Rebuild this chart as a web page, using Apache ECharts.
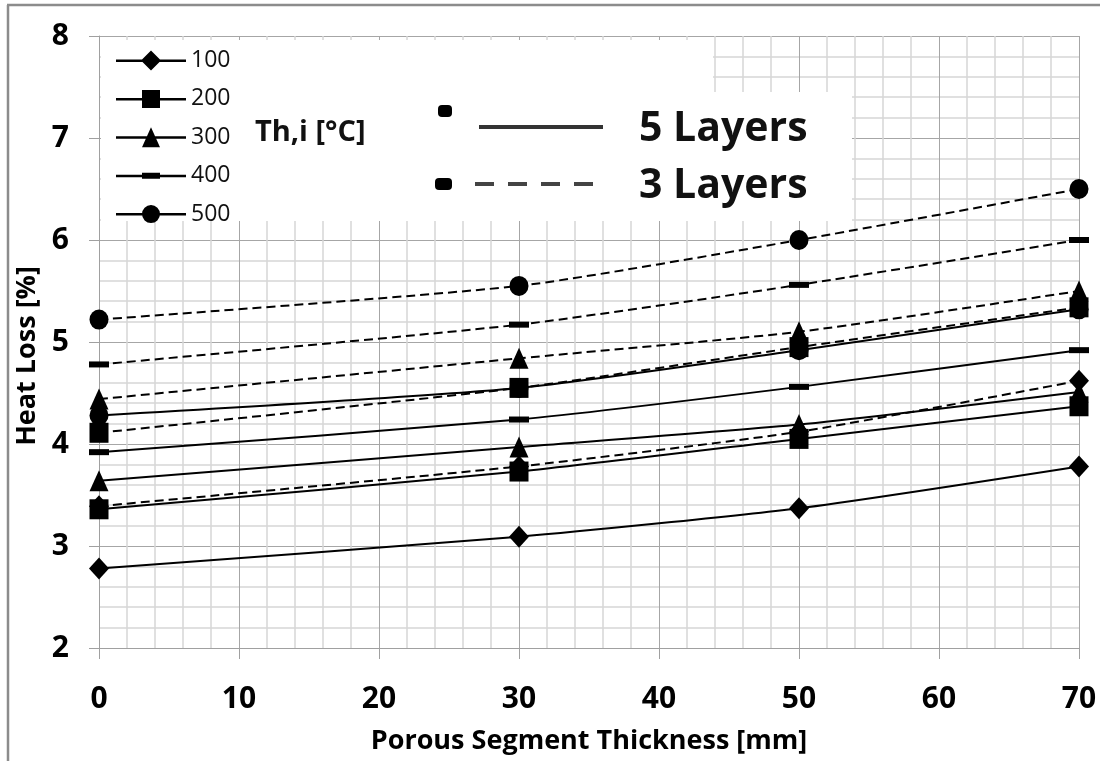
<!DOCTYPE html>
<html>
<head>
<meta charset="utf-8">
<script src="https://cdn.jsdelivr.net/npm/echarts@6/dist/echarts.min.js"></script>
<style>
html,body{margin:0;padding:0;background:#fff;}
#chart{width:1100px;height:761px;}
</style>
</head>
<body>
<div id="chart"></div>
<script>
// ---- data ----
const thickness = [0, 30, 50, 70];
const temps = ['100', '200', '300', '400', '500'];
const layers5_100 = [2.78, 3.09, 3.37, 3.78];
const layers5_200 = [3.36, 3.73, 4.05, 4.37];
const layers5_300 = [3.64, 3.97, 4.19, 4.51];
const layers5_400 = [3.92, 4.24, 4.56, 4.92];
const layers5_500 = [4.28, 4.55, 4.92, 5.32];
const layers3_100 = [3.39, 3.78, 4.12, 4.62];
const layers3_200 = [4.11, 4.55, 4.95, 5.34];
const layers3_300 = [4.44, 4.84, 5.10, 5.50];
const layers3_400 = [4.78, 5.17, 5.56, 6.00];
const layers3_500 = [5.22, 5.55, 6.00, 6.50];
const xTicks = [0, 10, 20, 30, 40, 50, 60, 70];
const yTicks = [2, 3, 4, 5, 6, 7, 8];

// ---- styling ----
const FONT = 'Open Sans';
const symbols = {
  '100': {symbol: 'diamond', size: [20, 22]},
  '200': {symbol: 'rect', size: [19, 20]},
  '300': {symbol: 'triangle', size: [19, 21]},
  '400': {symbol: 'rect', size: [20, 6]},
  '500': {symbol: 'circle', size: [19, 20]}
};
const legendIcons = {
  '100': 'path://M0,9L70,9L70,11.5L0,11.5ZM35,0L45,10L35,20L25,10Z',
  '200': 'path://M0,9L70,9L70,11.5L0,11.5ZM26,1L44,1L44,19L26,19Z',
  '300': 'path://M0,9L70,9L70,11.5L0,11.5ZM35,0L44,20L26,20Z',
  '400': 'path://M0,9L70,9L70,11.5L0,11.5ZM26,7L44,7L44,13L26,13Z',
  '500': 'path://M0,9L70,9L70,11.5L0,11.5ZM26,10A9,9 0 1,1 44,10A9,9 0 1,1 26,10Z'
};
const five = [layers5_100, layers5_200, layers5_300, layers5_400, layers5_500];
const three = [layers3_100, layers3_200, layers3_300, layers3_400, layers3_500];

function mk(name, vals, t, dashed) {
  return {
    name: name,
    type: 'line',
    data: thickness.map((x, i) => [x, vals[i]]),
    smooth: 0.2,
    symbol: symbols[t].symbol,
    symbolSize: symbols[t].size,
    itemStyle: {color: '#000'},
    lineStyle: {color: '#000', width: 2, type: dashed ? [9, 5] : 'solid'},
    z: dashed ? 3 : 2,
    emphasis: {disabled: true}
  };
}
const series = [];
temps.forEach((t, i) => series.push(mk(t, five[i], t, false)));
temps.forEach((t, i) => series.push(mk('3L ' + t, three[i], t, true)));

const chart = echarts.init(document.getElementById('chart'));
chart.setOption({
  animation: false,
  backgroundColor: '#fff',
  grid: {left: 99, right: 21, top: 36, bottom: 113, containLabel: false},
  xAxis: {
    type: 'value', min: xTicks[0], max: xTicks[xTicks.length - 1], interval: 10,
    name: 'Porous Segment Thickness [mm]', nameLocation: 'middle', nameGap: 80,
    nameTextStyle: {fontFamily: FONT, fontWeight: 'bold', fontSize: 27, color: '#000'},
    axisLine: {show: true, lineStyle: {color: '#a0a0a0', width: 1}},
    axisTick: {show: true, length: 11, lineStyle: {color: '#a0a0a0'}},
    axisLabel: {fontFamily: FONT, fontWeight: 'bold', fontSize: 30, color: '#000', margin: 36},
    splitLine: {show: true, lineStyle: {color: '#a6a6a6', width: 1}},
    minorTick: {show: false, splitNumber: 5},
    minorSplitLine: {show: true, lineStyle: {color: '#d6d6d6', width: 1.5}}
  },
  yAxis: {
    type: 'value', min: yTicks[0], max: yTicks[yTicks.length - 1], interval: 1,
    name: 'Heat Loss [%]', nameLocation: 'middle', nameGap: 46, nameRotate: 90,
    nameTextStyle: {fontFamily: FONT, fontWeight: 'bold', fontSize: 27, color: '#000', padding: [0, 28, 0, 0]},
    axisLine: {show: true, lineStyle: {color: '#a0a0a0', width: 1}},
    axisTick: {show: true, length: 10, lineStyle: {color: '#a0a0a0'}},
    axisLabel: {fontFamily: FONT, fontWeight: 'bold', fontSize: 30, color: '#000', margin: 30},
    splitLine: {show: true, lineStyle: {color: '#a6a6a6', width: 1}},
    minorTick: {show: false, splitNumber: 5},
    minorSplitLine: {show: true, lineStyle: {color: '#d6d6d6', width: 1.5}}
  },
  legend: {
    orient: 'vertical', left: 111, top: 44,
    itemWidth: 70, itemHeight: 20, itemGap: 15.4,
    symbolKeepAspect: true,
    data: temps.map(t => ({name: t, icon: legendIcons[t]})),
    textStyle: {fontFamily: FONT, fontSize: 23, color: '#111'},
    selectedMode: false,
    z: 6
  },
  graphic: [
    {type: 'rect', z: 1, silent: true, shape: {x: 101, y: 40, width: 612, height: 53}, style: {fill: '#fff'}},
    {type: 'rect', z: 1, silent: true, shape: {x: 101, y: 92, width: 751, height: 129}, style: {fill: '#fff'}},
    {type: 'line', z: 6, silent: true, shape: {x1: 7, y1: 5, x2: 1100, y2: 5}, style: {stroke: '#8c8c8c', lineWidth: 2.5}},
    {type: 'line', z: 6, silent: true, shape: {x1: 8, y1: 5, x2: 8, y2: 761}, style: {stroke: '#8c8c8c', lineWidth: 2.5}},
    {type: 'text', z: 6, silent: true, x: 255, y: 133,
      style: {text: 'Th,i [°C]', fontFamily: FONT, fontWeight: 'bold', fontSize: 29, fill: '#111', verticalAlign: 'middle'}},
    {type: 'rect', z: 6, silent: true, shape: {x: 438, y: 105, width: 14, height: 12, r: 4}, style: {fill: '#000'}},
    {type: 'rect', z: 6, silent: true, shape: {x: 435, y: 178, width: 17, height: 12, r: 4}, style: {fill: '#000'}},
    {type: 'line', z: 6, silent: true, shape: {x1: 479, y1: 127, x2: 603, y2: 127}, style: {stroke: '#333', lineWidth: 4}},
    {type: 'line', z: 6, silent: true, shape: {x1: 475, y1: 184, x2: 600, y2: 184}, style: {stroke: '#444', lineWidth: 4, lineDash: [19, 14]}},
    {type: 'text', z: 6, silent: true, x: 639, y: 129,
      style: {text: '5 Layers', fontFamily: FONT, fontWeight: 'bold', fontSize: 41, fill: '#111', verticalAlign: 'middle'}},
    {type: 'text', z: 6, silent: true, x: 639, y: 186,
      style: {text: '3 Layers', fontFamily: FONT, fontWeight: 'bold', fontSize: 41, fill: '#111', verticalAlign: 'middle'}}
  ],
  series: series
});
</script>
</body>
</html>
